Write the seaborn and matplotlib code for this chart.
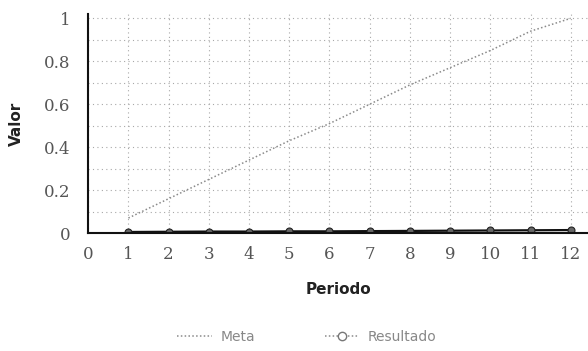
import matplotlib
matplotlib.use("Agg")
import matplotlib.pyplot as plt
from matplotlib.ticker import MultipleLocator
from matplotlib.lines import Line2D
import seaborn as sns
import pandas as pd

periodos = [1, 2, 3, 4, 5, 6, 7, 8, 9, 10, 11, 12]
meta = [0.07, 0.16, 0.25, 0.34, 0.43, 0.51, 0.60, 0.69, 0.77, 0.85, 0.94, 1.00]
resultado = [0.005, 0.006, 0.007, 0.007, 0.008, 0.008, 0.009, 0.010, 0.011, 0.012, 0.013, 0.014]
x_ticks = list(range(0, 13))
y_ticks = [0, 0.2, 0.4, 0.6, 0.8, 1]
y_tick_labels = ["0", "0.2", "0.4", "0.6", "0.8", "1"]

df = pd.DataFrame({"Periodo": periodos, "Meta": meta, "Resultado": resultado})

sns.set_theme(style="white")
plt.rcParams["font.family"] = ["DejaVu Sans"]

fig = plt.figure(figsize=(5.88, 3.51), dpi=100)
ax = fig.add_axes([0.150, 0.336, 0.850, 0.624])

sns.lineplot(data=df, x="Periodo", y="Meta", ax=ax, color="#8a8a8a",
             linestyle=(0, (1, 1.5)), linewidth=1.1, legend=False)
sns.lineplot(data=df, x="Periodo", y="Resultado", ax=ax, color="#111111",
             linewidth=1.6, marker="o", markersize=5,
             markerfacecolor="#666666", markeredgecolor="#222222",
             markeredgewidth=0.8, legend=False)

ax.set_xlim(0, 12.43)
ax.set_ylim(0, 1.02)
ax.set_xticks(x_ticks)
ax.set_xticklabels([str(t) for t in x_ticks])
ax.set_yticks(y_ticks)
ax.set_yticklabels(y_tick_labels)
ax.yaxis.set_minor_locator(MultipleLocator(0.1))

grid_style = dict(color="#a8a8a8", linestyle=(0, (1, 3)), linewidth=0.8)
ax.grid(True, which="both", axis="y", **grid_style)
ax.grid(True, which="major", axis="x", **grid_style)
ax.set_axisbelow(True)

for side in ["top", "right"]:
    ax.spines[side].set_visible(False)
for side in ["left", "bottom"]:
    ax.spines[side].set_color("#111111")
    ax.spines[side].set_linewidth(1.5)

ax.tick_params(axis="both", which="both", length=0)
ax.tick_params(axis="y", pad=13)
ax.tick_params(axis="x", pad=9)
for lbl in ax.get_xticklabels() + ax.get_yticklabels():
    lbl.set_fontfamily("DejaVu Serif")
    lbl.set_fontsize(12)
    lbl.set_color("#555555")

ax.set_xlabel("Periodo", fontsize=11, fontweight="bold", color="#222222", labelpad=14)
ax.set_ylabel("Valor", fontsize=11, fontweight="bold", color="#222222", labelpad=14)

handles = [
    Line2D([], [], color="#8a8a8a", linestyle=(0, (1, 1.5)), linewidth=1.1),
    Line2D([], [], color="#8a8a8a", linestyle=(0, (1, 1.5)), linewidth=1.1,
           marker="o", markersize=6, markerfacecolor="white",
           markeredgecolor="#777777", markeredgewidth=1.0),
]
leg = fig.legend(handles, ["Meta", "Resultado"], loc="center",
                 bbox_to_anchor=(0.522, 0.04), ncol=2, frameon=False,
                 fontsize=10, handlelength=2.5, columnspacing=5,
                 handletextpad=0.6)
for t in leg.get_texts():
    t.set_color("#888888")

fig.savefig("out.png", dpi=100)
